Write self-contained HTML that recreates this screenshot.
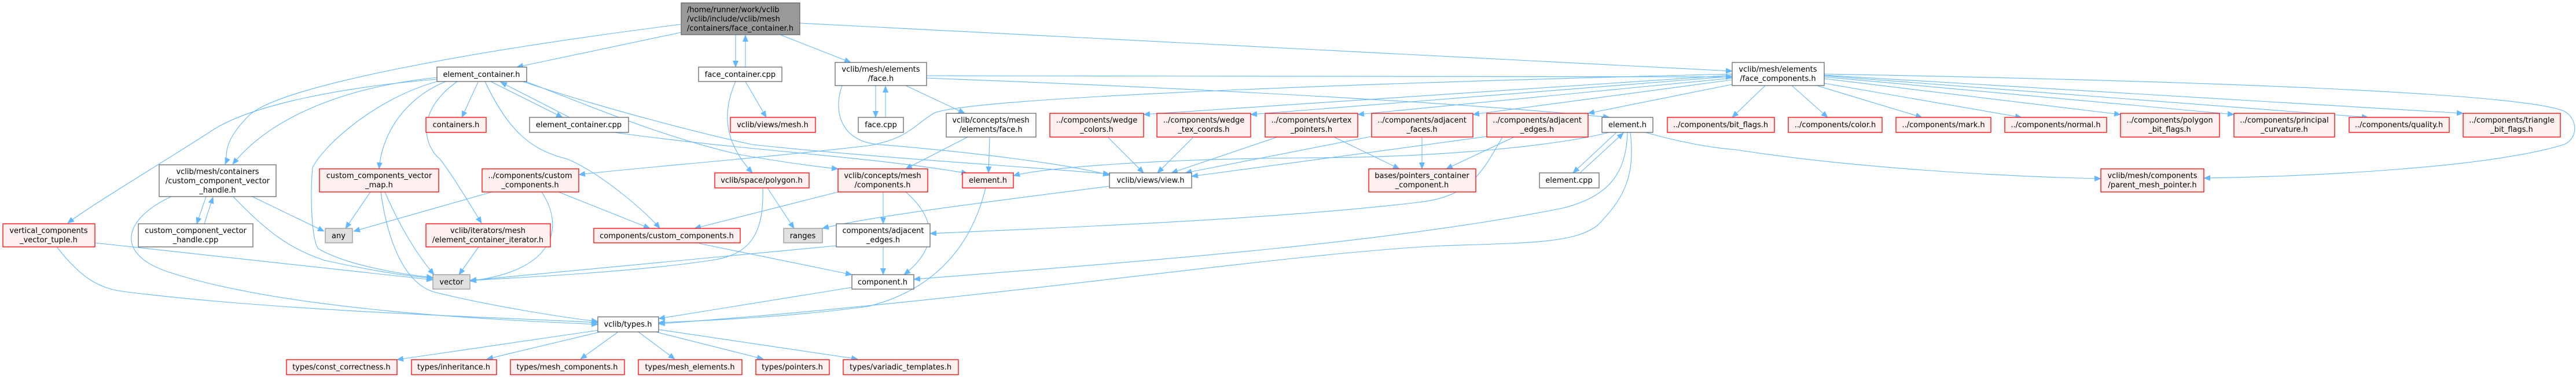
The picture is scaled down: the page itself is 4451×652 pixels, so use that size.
<!DOCTYPE html>
<html><head><meta charset="utf-8"><style>
html,body{margin:0;padding:0;background:#fff;width:4451px;height:652px;overflow:hidden}
svg{display:block}
text{font-family:"DejaVu Sans","Liberation Sans",sans-serif;font-size:13px;fill:#000}
.e{fill:none;stroke:#63b8ff;stroke-width:1.1}
.w{fill:#fff;stroke:#666;stroke-width:1.3}
.r{fill:#fff0f0;stroke:#ff0000;stroke-width:1.3}
.g{fill:#e0e0e0;stroke:#999;stroke-width:1.3}
.m{fill:#999;stroke:#666;stroke-width:1.3}
</style></head><body>
<svg width="4451" height="652" viewBox="0 0 4451 652" xmlns="http://www.w3.org/2000/svg">
<defs><marker id="a" markerWidth="12" markerHeight="10" refX="11" refY="5" orient="auto" markerUnits="userSpaceOnUse"><path d="M0,0 L12,5 L0,10 z" fill="#63b8ff"/></marker></defs>
<g class="edges" marker-end="url(#a)">
<path class="e" d="M1177,56 L893,116"/>
<path class="e" d="M1177,42 C800,90 480,150 430,200 S395,270 389,284"/>
<path class="e" d="M1271,60 L1271,116"/>
<path class="e" d="M1288,116 L1288,61"/>
<path class="e" d="M1348,60 L1470,108"/>
<path class="e" d="M1382,40 L2993,123"/>
<path class="e" d="M755,134 C600,150 470,200 402,284"/>
<path class="e" d="M755,137 C600,150 430,180 360,230 C250,300 150,360 117,386"/>
<path class="e" d="M755,141 C650,170 560,250 540,290 C535,350 540,420 550,430 C600,460 700,475 748,480"/>
<path class="e" d="M770,141 C700,170 660,230 655,292"/>
<path class="e" d="M826,142 L798,203"/>
<path class="e" d="M790,141 C720,190 730,250 760,275 C780,300 810,350 832,386"/>
<path class="e" d="M848,141 L972,203"/>
<path class="e" d="M984,203 L865,142"/>
<path class="e" d="M838,141 C880,230 920,260 980,275 C1040,300 1120,370 1140,395"/>
<path class="e" d="M908,141 C1000,175 1133,234 1276,267 C1350,280 1400,287 1448,292"/>
<path class="e" d="M903,141 C1050,190 1224,234 1300,250 C1500,272 1800,290 1917,301"/>
<path class="e" d="M1061,229 C1300,262 1500,270 1672,300"/>
<path class="e" d="M1288,141 L1324,203"/>
<path class="e" d="M1271,141 C1245,200 1255,250 1300,299"/>
<path class="e" d="M1326,325 L1372,395"/>
<path class="e" d="M1318,325 C1320,400 1300,440 1230,450 C1100,470 900,480 812,485"/>
<path class="e" d="M965,332 L1123,395"/>
<path class="e" d="M936,332 C980,400 950,470 812,486"/>
<path class="e" d="M850,332 L611,400"/>
<path class="e" d="M827,427 L793,475"/>
<path class="e" d="M1448,332 L1200,395"/>
<path class="e" d="M1526,332 L1526,387"/>
<path class="e" d="M1565,332 C1620,380 1620,430 1562,475"/>
<path class="e" d="M1526,427 L1526,475"/>
<path class="e" d="M1445,425 L812,485"/>
<path class="e" d="M1208,421 L1472,475"/>
<path class="e" d="M1472,497 L1138,551"/>
<path class="e" d="M1703,325 C1680,420 1620,500 1500,530 C1350,550 1200,555 1138,558"/>
<path class="e" d="M2596,237 C2560,300 2540,340 2450,350 C2200,380 1800,395 1607,404"/>
<path class="e" d="M2812,229 C2810,300 2780,340 2700,360 C2400,420 2000,450 1579,483"/>
<path class="e" d="M2817,229 C2825,300 2810,340 2760,390 C2720,420 2650,420 2490,425 C2200,440 1700,520 1138,560"/>
<path class="e" d="M164,420 L748,484"/>
<path class="e" d="M98,427 C140,480 170,500 220,505 C500,540 900,550 1033,558"/>
<path class="e" d="M296,340 C210,380 200,440 290,470 C500,540 900,555 1033,561"/>
<path class="e" d="M403,340 C460,400 500,430 560,450 C650,470 710,478 748,481"/>
<path class="e" d="M436,340 L560,400"/>
<path class="e" d="M640,332 L597,395"/>
<path class="e" d="M665,332 C690,390 720,440 750,475"/>
<path class="e" d="M658,332 C670,420 700,490 750,505 C850,530 980,550 1033,556"/>
<path class="e" d="M356,340 L340,387"/>
<path class="e" d="M353,387 L368,341"/>
<path class="e" d="M1917,322 C1700,350 1500,375 1421,395"/>
<path class="e" d="M1035,571 L686,622"/>
<path class="e" d="M1037,574 L841,621"/>
<path class="e" d="M1068,574 L1003,621"/>
<path class="e" d="M1103,574 L1166,621"/>
<path class="e" d="M1133,574 L1319,621"/>
<path class="e" d="M1138,570 L1482,621"/>
<path class="e" d="M1513,148 L1513,203"/>
<path class="e" d="M1530,203 L1530,149"/>
<path class="e" d="M1565,148 L1667,196"/>
<path class="e" d="M1601,131 L2993,133"/>
<path class="e" d="M1601,135 C2000,150 2500,175 2781,203"/>
<path class="e" d="M1455,148 C1440,190 1450,245 1520,250 C1700,265 1850,285 1917,303"/>
<path class="e" d="M1672,237 L1565,292"/>
<path class="e" d="M1710,237 L1708,299"/>
<path class="e" d="M1914,237 L1976,299"/>
<path class="e" d="M2062,237 L2000,299"/>
<path class="e" d="M2207,237 L2024,299"/>
<path class="e" d="M2370,236 L2048,299"/>
<path class="e" d="M2569,236 C2400,260 2200,285 2059,305"/>
<path class="e" d="M2780,229 C2700,250 2500,273 2250,273 C2000,275 1800,290 1751,304"/>
<path class="e" d="M2305,237 L2418,292"/>
<path class="e" d="M2457,237 L2457,292"/>
<path class="e" d="M2616,237 L2499,292"/>
<path class="e" d="M2793,229 L2718,299"/>
<path class="e" d="M2730,299 L2805,230"/>
<path class="e" d="M2843,229 C2900,245 2950,255 3000,259 C3200,290 3450,305 3630,309"/>
<path class="e" d="M2993,128 C2500,140 1700,165 1615,195 C1580,215 1570,240 1500,252 C1300,275 1100,290 1000,302"/>
<path class="e" d="M2993,130 L1976,198"/>
<path class="e" d="M2993,132 L2161,198"/>
<path class="e" d="M2993,135 L2346,198"/>
<path class="e" d="M2993,138 L2545,198"/>
<path class="e" d="M2993,146 L2744,196"/>
<path class="e" d="M3050,148 L2993,203"/>
<path class="e" d="M3096,148 L3158,203"/>
<path class="e" d="M3139,148 L3321,203"/>
<path class="e" d="M3152,144 L3493,203"/>
<path class="e" d="M3152,136 L3664,198"/>
<path class="e" d="M3152,133 L3860,198"/>
<path class="e" d="M3152,131 L4092,203"/>
<path class="e" d="M3152,130 L4256,196"/>
<path class="e" d="M3152,128 C3800,140 4350,160 4430,192 C4455,205 4455,240 4430,250 C4300,290 4000,305 3808,308"/>
</g>
<g id="nodes">
<rect class="m" x="1177" y="5" width="205" height="55"/>
<text x="1187" y="21">/home/runner/work/vclib</text><text x="1187" y="37">/vclib/include/vclib/mesh</text><text x="1187" y="53">/containers/face_container.h</text>
</g>
<g text-anchor="middle">
<rect class="w" x="755" y="116" width="155" height="25"/><text x="832" y="133">element_container.h</text>
<rect class="w" x="1207" y="116" width="144" height="25"/><text x="1279" y="133">face_container.cpp</text>
<rect class="w" x="1443" y="108" width="158" height="40"/><text x="1522" y="124">vclib/mesh/elements</text><text x="1522" y="140">/face.h</text>
<rect class="w" x="2993" y="108" width="159" height="40"/><text x="3072" y="124">vclib/mesh/elements</text><text x="3072" y="140">/face_components.h</text>
<rect class="r" x="736" y="203" width="104" height="26"/><text x="788" y="220">containers.h</text>
<rect class="w" x="915" y="203" width="171" height="26"/><text x="1000" y="220">element_container.cpp</text>
<rect class="r" x="1262" y="203" width="147" height="26"/><text x="1335" y="220">vclib/views/mesh.h</text>
<rect class="w" x="1483" y="203" width="78" height="26"/><text x="1522" y="220">face.cpp</text>
<rect class="w" x="1635" y="196" width="155" height="41"/><text x="1712" y="212">vclib/concepts/mesh</text><text x="1712" y="228">/elements/face.h</text>
<rect class="r" x="1814" y="196" width="162" height="41"/><text x="1895" y="212">../components/wedge</text><text x="1895" y="228">_colors.h</text>
<rect class="r" x="1999" y="196" width="162" height="41"/><text x="2080" y="212">../components/wedge</text><text x="2080" y="228">_tex_coords.h</text>
<rect class="r" x="2186" y="196" width="160" height="41"/><text x="2266" y="212">../components/vertex</text><text x="2266" y="228">_pointers.h</text>
<rect class="r" x="2370" y="196" width="175" height="41"/><text x="2457" y="212">../components/adjacent</text><text x="2457" y="228">_faces.h</text>
<rect class="r" x="2569" y="196" width="175" height="41"/><text x="2656" y="212">../components/adjacent</text><text x="2656" y="228">_edges.h</text>
<rect class="w" x="2768" y="203" width="88" height="26"/><text x="2812" y="220">element.h</text>
<rect class="r" x="2881" y="203" width="185" height="26"/><text x="2973" y="220">../components/bit_flags.h</text>
<rect class="r" x="3090" y="203" width="162" height="26"/><text x="3171" y="220">../components/color.h</text>
<rect class="r" x="3276" y="203" width="164" height="26"/><text x="3358" y="220">../components/mark.h</text>
<rect class="r" x="3464" y="203" width="176" height="26"/><text x="3552" y="220">../components/normal.h</text>
<rect class="r" x="3664" y="196" width="171" height="41"/><text x="3749" y="212">../components/polygon</text><text x="3749" y="228">_bit_flags.h</text>
<rect class="r" x="3860" y="196" width="174" height="41"/><text x="3947" y="212">../components/principal</text><text x="3947" y="228">_curvature.h</text>
<rect class="r" x="4059" y="203" width="173" height="26"/><text x="4145" y="220">../components/quality.h</text>
<rect class="r" x="4256" y="196" width="168" height="41"/><text x="4340" y="212">../components/triangle</text><text x="4340" y="228">_bit_flags.h</text>
<rect class="w" x="275" y="285" width="202" height="55"/><text x="376" y="301">vclib/mesh/containers</text><text x="376" y="317">/custom_component_vector</text><text x="376" y="333">_handle.h</text>
<rect class="r" x="552" y="292" width="206" height="40"/><text x="655" y="308">custom_components_vector</text><text x="655" y="324">_map.h</text>
<rect class="r" x="833" y="292" width="167" height="40"/><text x="916" y="308">../components/custom</text><text x="916" y="324">_components.h</text>
<rect class="r" x="1235" y="299" width="163" height="26"/><text x="1316" y="316">vclib/space/polygon.h</text>
<rect class="r" x="1448" y="292" width="155" height="40"/><text x="1525" y="308">vclib/concepts/mesh</text><text x="1525" y="324">/components.h</text>
<rect class="r" x="1663" y="299" width="88" height="26"/><text x="1707" y="316">element.h</text>
<rect class="w" x="1917" y="299" width="142" height="26"/><text x="1988" y="316">vclib/views/view.h</text>
<rect class="r" x="2365" y="292" width="185" height="40"/><text x="2457" y="308">bases/pointers_container</text><text x="2457" y="324">_component.h</text>
<rect class="w" x="2660" y="299" width="103" height="26"/><text x="2711" y="316">element.cpp</text>
<rect class="r" x="3630" y="292" width="178" height="40"/><text x="3719" y="308">vclib/mesh/components</text><text x="3719" y="324">/parent_mesh_pointer.h</text>
<rect class="r" x="5" y="387" width="159" height="40"/><text x="84" y="403">vertical_components</text><text x="84" y="419">_vector_tuple.h</text>
<rect class="w" x="239" y="387" width="198" height="40"/><text x="338" y="403">custom_component_vector</text><text x="338" y="419">_handle.cpp</text>
<rect class="g" x="562" y="395" width="47" height="25"/><text x="585" y="412">any</text>
<rect class="r" x="736" y="387" width="215" height="40"/><text x="843" y="403">vclib/iterators/mesh</text><text x="843" y="419">/element_container_iterator.h</text>
<rect class="r" x="1026" y="395" width="253" height="25"/><text x="1152" y="412">components/custom_components.h</text>
<rect class="g" x="1354" y="395" width="67" height="25"/><text x="1387" y="412">ranges</text>
<rect class="w" x="1445" y="387" width="162" height="40"/><text x="1526" y="403">components/adjacent</text><text x="1526" y="419">_edges.h</text>
<rect class="g" x="748" y="475" width="64" height="25"/><text x="780" y="492">vector</text>
<rect class="w" x="1472" y="475" width="107" height="25"/><text x="1525" y="492">component.h</text>
<rect class="w" x="1033" y="548" width="105" height="26"/><text x="1085" y="565">vclib/types.h</text>
<rect class="r" x="495" y="622" width="191" height="26"/><text x="590" y="639">types/const_correctness.h</text>
<rect class="r" x="711" y="622" width="147" height="26"/><text x="784" y="639">types/inheritance.h</text>
<rect class="r" x="882" y="622" width="197" height="26"/><text x="980" y="639">types/mesh_components.h</text>
<rect class="r" x="1103" y="622" width="179" height="26"/><text x="1192" y="639">types/mesh_elements.h</text>
<rect class="r" x="1306" y="622" width="127" height="26"/><text x="1369" y="639">types/pointers.h</text>
<rect class="r" x="1457" y="622" width="199" height="26"/><text x="1556" y="639">types/variadic_templates.h</text>
</g>
</svg>
</body></html>
